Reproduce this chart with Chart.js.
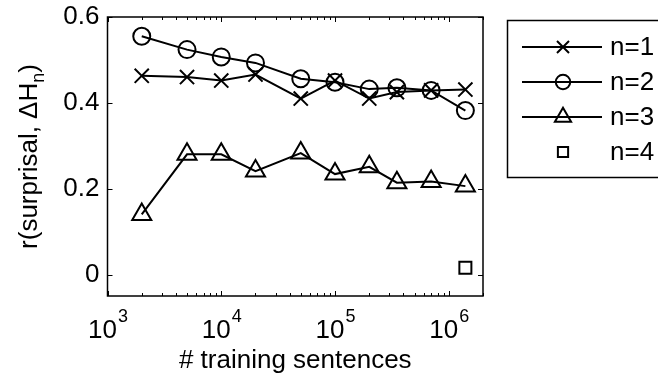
<!DOCTYPE html>
<html>
<head>
<meta charset="utf-8">
<script src="https://cdn.jsdelivr.net/npm/chart.js@4.4.0/dist/chart.umd.min.js"></script>
<style>
  html, body { margin: 0; padding: 0; background: #fff; }
  #wrap { width: 658px; height: 374px; }
</style>
</head>
<body>
<div id="wrap"><canvas id="c" width="658" height="374"></canvas></div>
<script>
// training set sizes (x) and correlations per n-gram order
const sentences = [2000, 5000, 10000, 20000, 50000, 100000, 200000, 350000, 700000, 1400000];
const rN1 = [0.463, 0.460, 0.452, 0.466, 0.410, 0.452, 0.410, 0.425, 0.429, 0.431];
const rN2 = [0.555, 0.524, 0.507, 0.493, 0.456, 0.448, 0.432, 0.435, 0.429, 0.382];
const rN3 = [0.140, 0.280, 0.280, 0.241, 0.283, 0.234, 0.251, 0.214, 0.217, 0.206];
const sentencesN4 = [1400000];
const rN4 = [0.016];

const seriesLabels = ['n=1', 'n=2', 'n=3', 'n=4'];
const xMajorTicks = [1e3, 1e4, 1e5, 1e6];
const yTicks = [0, 0.2, 0.4, 0.6];
const yTickLabels = ['0', '0.2', '0.4', '0.6'];

const FONT = '"Liberation Sans", Arial, Helvetica, sans-serif';

const pts = (xs, ys) => xs.map((x, i) => ({ x, y: ys[i] }));

function makeSet(label, xs, ys, style, radius, line) {
  return {
    label,
    data: pts(xs, ys),
    borderColor: '#000',
    borderWidth: 2,
    showLine: line,
    tension: 0,
    pointStyle: style,
    pointRadius: radius,
    pointHoverRadius: radius,
    pointBorderWidth: 2,
    pointBorderColor: '#000',
    pointBackgroundColor: 'rgba(0,0,0,0)'
  };
}

// MATLAB-like box, ticks, labels and legend
const matlabAxes = {
  id: 'matlabAxes',
  afterDraw(chart) {
    const { ctx, chartArea: a, scales } = chart;
    const sx = scales.x, sy = scales.y;
    ctx.save();
    ctx.strokeStyle = '#000';
    ctx.fillStyle = '#000';

    // frame
    ctx.lineWidth = 1.5;
    ctx.strokeRect(a.left, a.top, a.right - a.left, a.bottom - a.top);

    // x ticks (major + minor), inward on top & bottom
    ctx.lineWidth = 1;
    ctx.beginPath();
    for (let e = 3; e <= 6; e++) {
      for (let m = 1; m <= 9; m++) {
        const v = m * Math.pow(10, e);
        if (v < sx.min || v > sx.max) continue;
        const px = Math.round(sx.getPixelForValue(v)) + 0.5;
        const len = m === 1 ? 5 : 3;
        ctx.moveTo(px, a.bottom); ctx.lineTo(px, a.bottom - len);
        ctx.moveTo(px, a.top); ctx.lineTo(px, a.top + len);
      }
    }
    // y ticks left & right
    yTicks.forEach(v => {
      const py = Math.round(sy.getPixelForValue(v)) + 0.5;
      ctx.moveTo(a.left, py); ctx.lineTo(a.left + 5, py);
      ctx.moveTo(a.right, py); ctx.lineTo(a.right - 5, py);
    });
    ctx.stroke();

    // y tick labels
    ctx.font = '26px ' + FONT;
    ctx.textAlign = 'right';
    ctx.textBaseline = 'middle';
    yTicks.forEach((v, i) => {
      ctx.fillText(yTickLabels[i], a.left - 8, sy.getPixelForValue(v));
    });

    // x tick labels 10^k
    ctx.textBaseline = 'alphabetic';
    ctx.textAlign = 'left';
    xMajorTicks.forEach(v => {
      const px = sx.getPixelForValue(v);
      const exp = String(Math.round(Math.log10(v)));
      ctx.font = '26px ' + FONT;
      const wb = ctx.measureText('10').width;
      ctx.font = '18px ' + FONT;
      const we = ctx.measureText(exp).width;
      const x0 = px - (wb + we) / 2;
      ctx.font = '26px ' + FONT;
      ctx.fillText('10', x0, 338);
      ctx.font = '18px ' + FONT;
      ctx.fillText(exp, x0 + wb + 1, 322);
    });

    // x title
    ctx.font = '26px ' + FONT;
    ctx.textAlign = 'center';
    ctx.fillText('# training sentences', (a.left + a.right) / 2, 368);

    // y title with subscript n
    ctx.save();
    ctx.translate(30, (a.top + a.bottom) / 2);
    ctx.rotate(-Math.PI / 2);
    const p1 = 'r(surprisal, \u0394H', p2 = 'n', p3 = ')';
    ctx.font = '26px ' + FONT;
    const w1 = ctx.measureText(p1).width, w3 = ctx.measureText(p3).width;
    ctx.font = '18px ' + FONT;
    const w2 = ctx.measureText(p2).width;
    let x = -(w1 + w2 + w3) / 2;
    ctx.textAlign = 'left';
    ctx.textBaseline = 'middle';
    ctx.font = '26px ' + FONT;
    ctx.fillText(p1, x, 0); x += w1;
    ctx.font = '18px ' + FONT;
    ctx.fillText(p2, x, 9); x += w2;
    ctx.font = '26px ' + FONT;
    ctx.fillText(p3, x, 0);
    ctx.restore();

    // legend box
    const lx = 507.5, ly = 20.5, rowH = 35;
    ctx.lineWidth = 1.5;
    ctx.strokeRect(lx, ly, 200, 157);
    chart.data.datasets.forEach((ds, i) => {
      const yy = ly + 26.5 + i * rowH;
      ctx.lineWidth = 2;
      if (ds.showLine) {
        ctx.beginPath();
        ctx.moveTo(522, yy); ctx.lineTo(602, yy);
        ctx.stroke();
      }
      ctx.fillStyle = 'rgba(0,0,0,0)';
      Chart.helpers.drawPoint(ctx, {
        pointStyle: ds.pointStyle, rotation: 0,
        radius: ds.pointRadius * 0.85, borderWidth: 2
      }, 563, yy);
      ctx.fillStyle = '#000';
      ctx.font = '26px ' + FONT;
      ctx.textAlign = 'left';
      ctx.textBaseline = 'middle';
      ctx.fillText(ds.label, 610, yy + 1);
    });
    ctx.restore();
  }
};

new Chart(document.getElementById('c'), {
  type: 'line',
  data: {
    datasets: [
      makeSet(seriesLabels[0], sentences, rN1, 'crossRot', 10, true),
      makeSet(seriesLabels[1], sentences, rN2, 'circle', 8.5, true),
      makeSet(seriesLabels[2], sentences, rN3, 'triangle', 11, true),
      makeSet(seriesLabels[3], sentencesN4, rN4, 'rect', 8.5, false)
    ]
  },
  options: {
    responsive: false,
    animation: false,
    devicePixelRatio: 1,
    layout: { padding: { top: 17, right: 175, left: 0, bottom: 0 } },
    plugins: { legend: { display: false }, tooltip: { enabled: false } },
    scales: {
      x: {
        type: 'logarithmic', min: 1000, max: 2000000,
        ticks: { display: false }, grid: { display: false }, border: { display: false },
        afterFit: s => { s.height = 78; }
      },
      y: {
        type: 'linear', min: -0.05, max: 0.6,
        ticks: { display: false }, grid: { display: false }, border: { display: false },
        afterFit: s => { s.width = 107.5; }
      }
    }
  },
  plugins: [matlabAxes]
});
</script>
</body>
</html>
